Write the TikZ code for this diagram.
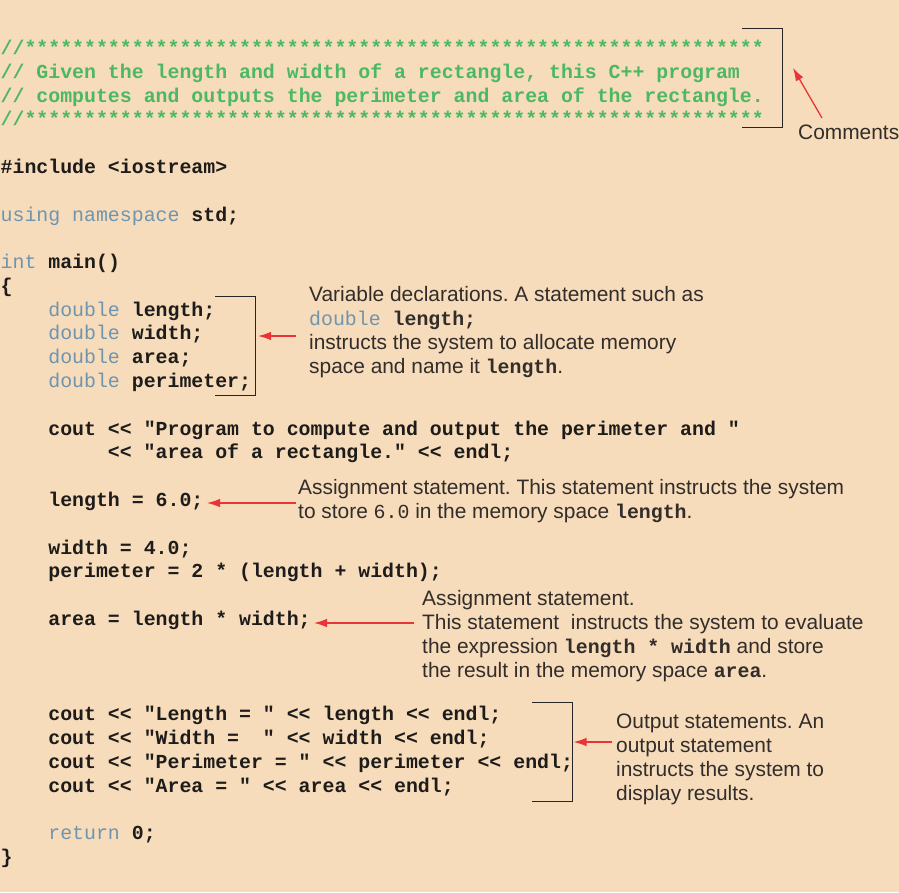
\documentclass[tikz,border=0pt]{standalone}
\usepackage{fontspec}
\setmonofont{Liberation Mono}
\setsansfont{Liberation Sans}
\usetikzlibrary{arrows.meta}

\definecolor{bgpeach}{RGB}{246,220,187}
\definecolor{cmtgreen}{RGB}{77,184,99}
\definecolor{kwblue}{RGB}{111,148,176}
\definecolor{arrowred}{RGB}{232,52,56}
\definecolor{notetext}{RGB}{50,45,42}
\definecolor{codeblack}{RGB}{30,28,26}

\newcommand\codefont{\ttfamily\bfseries\fontsize{19.87}{23.79}\selectfont}
\newcommand\notefont{\sffamily\fontsize{20.9}{23.8}\selectfont}
\newcommand\kw[1]{{\mdseries\color{kwblue}#1}}
\newcommand\cd[1]{{\ttfamily\bfseries\fontsize{19.87}{23.8}\selectfont #1}}
\newcommand\cdmd[1]{{\ttfamily\fontsize{19.87}{23.8}\selectfont #1}}
\def\stars{**************************************************************}
\frenchspacing

\tikzset{
  code/.style={anchor=base west, inner sep=0pt, font=\codefont, text=codeblack},
  cmt/.style={code, text=cmtgreen},
  note/.style={anchor=base west, inner sep=0pt, font=\notefont, text=notetext},
  bracket/.style={draw=black!85, line width=1pt},
  ptr/.style={-{Latex[length=13pt,width=8.5pt]}, draw=arrowred, line width=1.3pt}
}

\begin{document}
\begin{tikzpicture}[x=1pt,y=-1pt]
      \useasboundingbox (0,0) rectangle (899,892);
      \fill[bgpeach] (0,0) rectangle (899,892);
      \def\cw{11.92}
      \def\lh{23.79}
      \def\top{54.5}
      % header comment
      \node[cmt] (cStarTop) at (0.5,{\top}) {//\stars};
      \node[cmt] (cGiven) at (0.5,{\top+1*\lh}) {// Given the length and width of a rectangle, this C++ program};
      \node[cmt] (cComputes) at (0.5,{\top+2*\lh}) {// computes and outputs the perimeter and area of the rectangle.};
      \node[cmt] (cStarBot) at (0.5,{\top+3*\lh}) {//\stars};
      % program
      \node[code] (cInclude) at (0.5,{\top+5*\lh}) {\#include <iostream>};
      \node[code] (cUsing) at (0.5,{\top+7*\lh}) {\kw{using namespace} std;};
      \node[code] (cMain) at (0.5,{\top+9*\lh}) {\kw{int} main()};
      \node[code] (cOpen) at (0.5,{\top+10*\lh}) {\{};
      \node[code] (cLen) at ({0.5+4*\cw},{\top+11*\lh}) {\kw{double} length;};
      \node[code] (cWid) at ({0.5+4*\cw},{\top+12*\lh}) {\kw{double} width;};
      \node[code] (cArea) at ({0.5+4*\cw},{\top+13*\lh}) {\kw{double} area;};
      \node[code] (cPeri) at ({0.5+4*\cw},{\top+14*\lh}) {\kw{double} perimeter;};
      \node[code] (cTitle) at ({0.5+4*\cw},{\top+16*\lh}) {cout << "Program to compute and output the perimeter and "};
      \node[code] (cTitleB) at ({0.5+9*\cw},{\top+17*\lh}) {<< "area of a rectangle." << endl;};
      \node[code] (cSetLen) at ({0.5+4*\cw},{\top+19*\lh}) {length = 6.0;};
      \node[code] (cSetWid) at ({0.5+4*\cw},{\top+21*\lh}) {width = 4.0;};
      \node[code] (cSetPeri) at ({0.5+4*\cw},{\top+22*\lh}) {perimeter = 2 * (length + width);};
      \node[code] (cSetArea) at ({0.5+4*\cw},{\top+24*\lh}) {area = length * width;};
      \node[code] (cShowLen) at ({0.5+4*\cw},{\top+28*\lh}) {cout << "Length = " << length << endl;};
      \node[code] (cShowWid) at ({0.5+4*\cw},{\top+29*\lh}) {cout << "Width =\ \ " << width << endl;};
      \node[code] (cShowPeri) at ({0.5+4*\cw},{\top+30*\lh}) {cout << "Perimeter = " << perimeter << endl;};
      \node[code] (cShowArea) at ({0.5+4*\cw},{\top+31*\lh}) {cout << "Area = " << area << endl;};
      \node[code] (cReturn) at ({0.5+4*\cw},{\top+33*\lh}) {\kw{return} 0;};
      \node[code] (cClose) at (0.5,{\top+34*\lh}) {\}};
      % brackets
      \draw[bracket] (742,28) -| (782,127) -- (742,127);
      \draw[bracket] (215,296) -| (255.5,395) -- (215,395);
      \draw[bracket] (532,702) -| (572,801) -- (532,801);
      % notes
      \node[note] (comments) at (798,139) {Comments};
      \node[note] (declA) at (309,301) {Variable declarations. A statement such as};
      \node[note] (declB) at (309,325) {\cd{\kw{double} length;}};
      \node[note] (declC) at (309,349) {instructs the system to allocate memory};
      \node[note] (declD) at (309,373) {space and name it \cd{length}.};
      \node[note] (asgA) at (298,494.5) {Assignment statement. This statement instructs the system};
      \node[note] (asgB) at (298,518) {to store \cdmd{6.0} in the memory space \cd{length}.};
      \node[note] (areaA) at (422,605) {Assignment statement.};
      \node[note] (areaB) at (422,629) {This statement\ \ instructs the system to evaluate};
      \node[note] (areaC) at (422,653) {the expression \cd{length * width} and store};
      \node[note] (areaD) at (422,677) {the result in the memory space \cd{area}.};
      \node[note] (outA) at (616,728.5) {Output statements. An};
      \node[note] (outB) at (616,752.5) {output statement};
      \node[note] (outC) at (616,776.5) {instructs the system to};
      \node[note] (outD) at (616,800.5) {display results.};
      % pointers
      \coordinate (cmtTail) at (822,118);
      \coordinate (cmtTip) at (793,68);
      \coordinate (declTail) at (296,336);
      \coordinate (declTip) at (258,336);
      \coordinate (asgTail) at (296,503);
      \coordinate (asgTip) at (207,503);
      \coordinate (areaTail) at (414,623);
      \coordinate (areaTip) at (314,623);
      \coordinate (outTail) at (612,742);
      \coordinate (outTip) at (573.5,742);
      \draw[ptr] (cmtTail) -- (cmtTip);
      \draw[ptr] (declTail) -- (declTip);
      \draw[ptr] (asgTail) -- (asgTip);
      \draw[ptr] (areaTail) -- (areaTip);
      \draw[ptr] (outTail) -- (outTip);
    \end{tikzpicture}
\end{document}
